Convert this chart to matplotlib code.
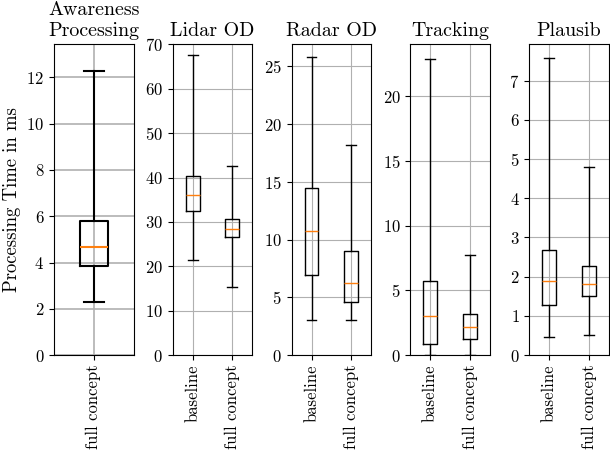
import matplotlib
matplotlib.use("Agg")
import matplotlib.pyplot as plt

plt.rcParams["font.family"] = "serif"
plt.rcParams["font.serif"] = ["cmr10", "DejaVu Serif"]
plt.rcParams["axes.formatter.use_mathtext"] = True
plt.rcParams["font.size"] = 12

# box statistics: (whislo, q1, med, q3, whishi)
titles = ["Awareness\nProcessing", "Lidar OD", "Radar OD", "Tracking", "Plausib"]
labels = [["full concept"],
          ["baseline", "full concept"],
          ["baseline", "full concept"],
          ["baseline", "full concept"],
          ["baseline", "full concept"]]
awareness = [[2.3, 3.85, 4.65, 5.8, 12.3]]
lidar = [[21.3, 32.5, 36.0, 40.3, 67.5], [15.3, 26.5, 28.3, 30.7, 42.7]]
radar = [[3.0, 6.9, 10.7, 14.5, 25.8], [3.0, 4.6, 6.2, 9.0, 18.2]]
tracking = [[0.0, 0.85, 3.0, 5.75, 22.9], [0.0, 1.25, 2.2, 3.2, 7.75]]
plausib = [[0.45, 1.27, 1.88, 2.68, 7.58], [0.5, 1.5, 1.82, 2.28, 4.8]]
ytops = [13.45, 70.1, 26.94, 24.05, 7.94]

data = [awareness, lidar, radar, tracking, plausib]

fig, axes = plt.subplots(1, 5, figsize=(6.1, 4.53), dpi=100)
fig.subplots_adjust(left=0.0885, right=0.998, top=0.903, bottom=0.2163, wspace=0.494)

for i, (ax, title, labs, groups, ytop) in enumerate(zip(axes, titles, labels, data, ytops)):
    lw = 1.5 if i == 0 else 1.0
    stats = []
    for lab, g in zip(labs, groups):
        stats.append({"label": lab, "whislo": g[0], "q1": g[1], "med": g[2],
                      "q3": g[3], "whishi": g[4], "fliers": []})
    ax.bxp(stats, widths=0.35, capwidths=0.25, showfliers=False,
           boxprops={"linewidth": lw}, whiskerprops={"linewidth": lw},
           capprops={"linewidth": lw},
           medianprops={"color": "C1", "linewidth": lw})
    ax.set_title(title)
    ax.set_ylim(0, ytop)
    ax.grid(True, linewidth=0.8 * lw)
    ax.set_axisbelow(True)
    ax.tick_params(axis="x", labelrotation=90)

axes[0].set_ylabel("Processing Time in ms", fontsize=13.5)

plt.savefig("out.png", dpi=100)
